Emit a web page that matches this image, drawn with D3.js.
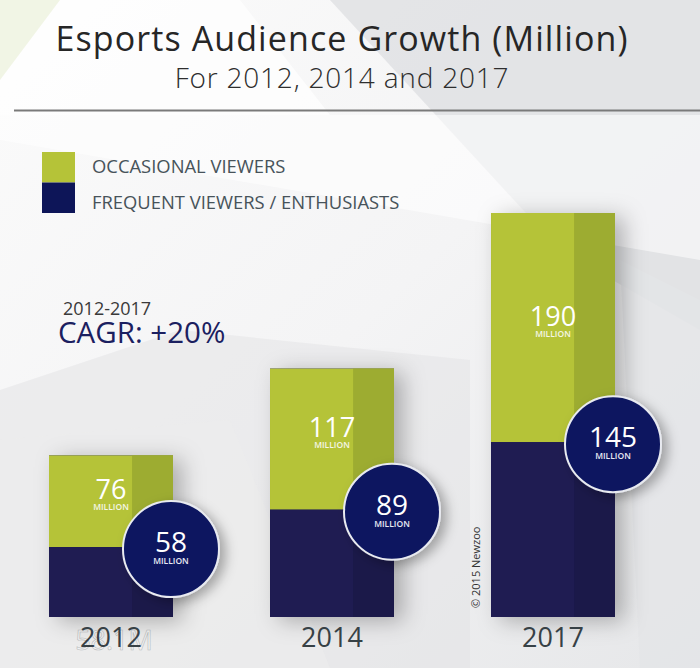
<!DOCTYPE html>
<html><head><meta charset="utf-8">
<script src="https://cdn.jsdelivr.net/npm/d3@7"></script>
<style>html,body{margin:0;padding:0;background:#f3f3f4;}svg{display:block;}</style>
</head><body>
<script>
const years = ["2012", "2014", "2017"];
const occasional = [76, 117, 190];
const frequent = [58, 89, 145];
const legendLabels = ["OCCASIONAL VIEWERS", "FREQUENT VIEWERS / ENTHUSIASTS"];

const W = 700, H = 668;
const font = "'Open Sans', 'Noto Sans', sans-serif";
const green = "#b5c338", greenDark = "#9dac31";
const navy = "#1f1c52", navyDark = "#1b1949";
const circleFill = "#0b1660";

const svg = d3.select("body").append("svg").attr("width", W).attr("height", H);
const defs = svg.append("defs");

const bg = defs.append("linearGradient").attr("id", "bg").attr("x1", 0).attr("y1", 0).attr("x2", 1).attr("y2", 1);
bg.append("stop").attr("offset", 0).attr("stop-color", "#fbfbfb");
bg.append("stop").attr("offset", 0.5).attr("stop-color", "#f4f4f5");
bg.append("stop").attr("offset", 1).attr("stop-color", "#e6e7e9");

const sh = defs.append("filter").attr("id", "shadow").attr("x", "-30%").attr("y", "-20%").attr("width", "180%").attr("height", "150%");
sh.append("feDropShadow").attr("dx", 9).attr("dy", 4).attr("stdDeviation", 11).attr("flood-color", "#000").attr("flood-opacity", 0.28);
const sh2 = defs.append("filter").attr("id", "cshadow").attr("x", "-40%").attr("y", "-40%").attr("width", "190%").attr("height", "190%");
sh2.append("feDropShadow").attr("dx", 6).attr("dy", 4).attr("stdDeviation", 6).attr("flood-color", "#000").attr("flood-opacity", 0.3);

// background
svg.append("rect").attr("width", W).attr("height", H).attr("fill", "url(#bg)");
const shapes = [
  {p: [[330,0],[700,0],[700,330],[560,250]], c: "#dfe0e2", o: 0.8},
  {p: [[0,0],[240,0],[330,115],[0,115]], c: "#ffffff", o: 0.7},
  {p: [[0,115],[700,115],[700,260],[0,140]], c: "#ffffff", o: 0.55},
  {p: [[0,390],[180,330],[470,360],[470,668],[0,668]], c: "#e3e4e6", o: 0.55},
  {p: [[0,440],[230,420],[330,668],[0,668]], c: "#eceded", o: 0.6},
  {p: [[620,260],[700,300],[700,668],[640,668]], c: "#e4e5e7", o: 0.8},
  {p: [[0,0],[60,0],[0,80]], c: "#eef3df", o: 0.8}
];
svg.append("g").selectAll("polygon").data(shapes).join("polygon")
  .attr("points", d => d.p.map(q => q.join(",")).join(" "))
  .attr("fill", d => d.c).attr("opacity", d => d.o);

// title
svg.append("text").attr("x", 342).attr("y", 51).attr("text-anchor", "middle")
  .attr("font-family", font).attr("font-size", 34).attr("letter-spacing", 1.1).attr("fill", "#262626")
  .text("Esports Audience Growth (Million)");
svg.append("text").attr("x", 342).attr("y", 88).attr("text-anchor", "middle")
  .attr("font-family", font).attr("font-size", 28).attr("letter-spacing", 0.8).attr("font-weight", 300).attr("fill", "#2e2e2e")
  .text("For 2012, 2014 and 2017");
svg.append("line").attr("x1", 14).attr("x2", W).attr("y1", 110.5).attr("y2", 110.5)
  .attr("stroke", "#7a7a7a").attr("stroke-width", 2);

// legend
const legColors = [green, "#0d1558"];
const leg = svg.append("g");
leg.selectAll("rect").data(legendLabels).join("rect")
  .attr("x", 42).attr("y", (d, i) => 152 + i * 30.5).attr("width", 33).attr("height", 30.5)
  .attr("fill", (d, i) => legColors[i]);
leg.selectAll("text").data(legendLabels).join("text")
  .attr("x", 92).attr("y", (d, i) => 173 + i * 35.5)
  .attr("font-family", font).attr("font-size", 18.4).attr("fill", "#47535a")
  .text(d => d);

// CAGR
svg.append("text").attr("x", 63).attr("y", 315).attr("font-family", font).attr("font-size", 18)
  .attr("fill", "#3a3a3a").text("2012-2017");
svg.append("text").attr("x", 58).attr("y", 343).attr("font-family", font).attr("font-size", 29.5)
  .attr("fill", "#1b2060").text("CAGR: +20%");

// scales
const totals = occasional.map((v, i) => v + frequent[i]);
const x = d3.scaleBand().domain(years).range([49, 615]).paddingInner(0.439).paddingOuter(0);
const y = d3.scaleLinear().domain([0, d3.max(totals)]).range([617, 213]);
const stripW = x.bandwidth() * 0.33;

const data = years.map((yr, i) => ({yr, occ: occasional[i], freq: frequent[i], tot: totals[i]}));

// ghost text under 2012
svg.append("text").attr("x", x("2012") + x.bandwidth() / 2 + 3).attr("y", 650).attr("text-anchor", "middle")
  .attr("font-family", font).attr("font-size", 27).attr("fill", "#f2f2f2").attr("stroke", "#b9bcbe").attr("stroke-width", 0.6)
  .text("58.1M");

const bars = svg.append("g").selectAll("g").data(data).join("g");
bars.append("rect").attr("x", d => x(d.yr)).attr("y", d => y(d.tot)).attr("width", x.bandwidth())
  .attr("height", d => y(0) - y(d.tot)).attr("fill", navy).attr("filter", "url(#shadow)");
// occasional (top)
bars.append("rect").attr("x", d => x(d.yr)).attr("y", d => y(d.tot)).attr("width", x.bandwidth())
  .attr("height", d => y(d.freq) - y(d.tot)).attr("fill", green);
bars.append("rect").attr("x", d => x(d.yr) + x.bandwidth() - stripW).attr("y", d => y(d.tot)).attr("width", stripW)
  .attr("height", d => y(d.freq) - y(d.tot)).attr("fill", greenDark);
// frequent (bottom)
bars.append("rect").attr("x", d => x(d.yr)).attr("y", d => y(d.freq)).attr("width", x.bandwidth())
  .attr("height", d => y(0) - y(d.freq)).attr("fill", navy);
bars.append("rect").attr("x", d => x(d.yr) + x.bandwidth() - stripW).attr("y", d => y(d.freq)).attr("width", stripW)
  .attr("height", d => y(0) - y(d.freq)).attr("fill", navyDark);

// occasional labels
bars.append("text").attr("x", d => x(d.yr) + x.bandwidth() / 2)
  .attr("y", d => (y(d.tot) + y(d.freq)) / 2 - 2).attr("text-anchor", "middle")
  .attr("font-family", font).attr("font-size", 27).attr("fill", "#fff").text(d => d.occ);
bars.append("text").attr("x", d => x(d.yr) + x.bandwidth() / 2)
  .attr("y", d => (y(d.tot) + y(d.freq)) / 2 + 9).attr("text-anchor", "middle")
  .attr("font-family", font).attr("font-size", 8.5).attr("font-weight", 600).attr("fill", "#f4f6e6").text("MILLION");

// circles
bars.append("circle").attr("cx", d => x(d.yr) + x.bandwidth() - 2).attr("cy", d => y(d.freq) + 2).attr("r", 48)
  .attr("fill", circleFill).attr("stroke", "#e8eaf0").attr("stroke-width", 2).attr("filter", "url(#cshadow)");
bars.append("text").attr("x", d => x(d.yr) + x.bandwidth() - 2).attr("y", d => y(d.freq) + 5).attr("text-anchor", "middle")
  .attr("font-family", font).attr("font-size", 28).attr("fill", "#fff").text(d => d.freq);
bars.append("text").attr("x", d => x(d.yr) + x.bandwidth() - 2).attr("y", d => y(d.freq) + 17).attr("text-anchor", "middle")
  .attr("font-family", font).attr("font-size", 8.5).attr("font-weight", 600).attr("fill", "#e8eaf4").text("MILLION");

// year labels
bars.append("text").attr("x", d => x(d.yr) + x.bandwidth() / 2).attr("y", 647).attr("text-anchor", "middle")
  .attr("font-family", font).attr("font-size", 27).attr("fill", "#374146").text(d => d.yr);

// copyright
svg.append("text").attr("transform", "translate(480,608) rotate(-90)")
  .attr("font-family", font).attr("font-size", 11).attr("fill", "#333").text("\u00A9 2015 Newzoo");
</script>
</body></html>
